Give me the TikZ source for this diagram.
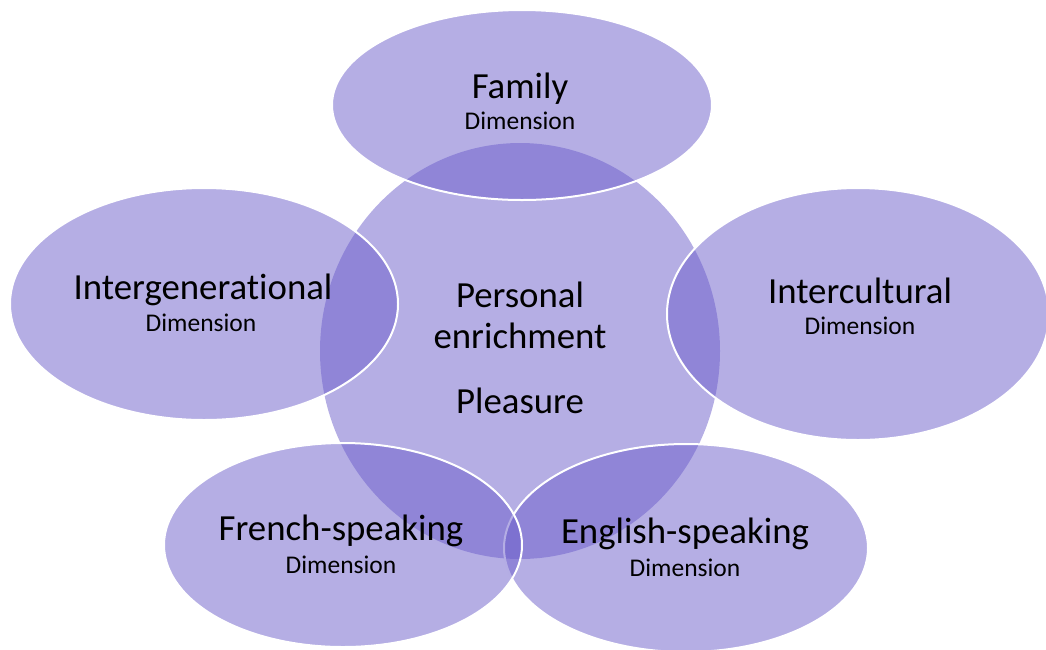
\documentclass[tikz,border=0pt]{standalone}
\usepackage{fontspec}
\setmainfont{Carlito}[Ligatures={NoCommon,NoDiscretionary,NoContextual}]
\definecolor{lav}{RGB}{107,93,202}
\begin{document}
\begin{tikzpicture}[x=1pt,y=-1pt,
  blob/.style={fill=lav,fill opacity=0.5,draw=white,line width=2pt},
  core/.style={fill=lav,fill opacity=0.5,draw=none},
  big/.style={anchor=base,font=\fontsize{36.8}{44}\selectfont,text=black,inner sep=0pt},
  small/.style={anchor=base,font=\fontsize{25.5}{30}\selectfont,text=black,inner sep=0pt}]
\useasboundingbox (0,0) rectangle (1046,649);
\path[core] (520,351) ellipse [x radius=200, y radius=208];
\path[blob] (522,105) ellipse [x radius=190, y radius=95];
\path[blob] (858,314) ellipse [x radius=191, y radius=126];
\path[blob] (686,548) ellipse [x radius=182, y radius=104];
\path[blob] (343,545) ellipse [x radius=179, y radius=102];
\path[blob] (204,304) ellipse [x radius=194, y radius=116];
% center
\node[big] (p1) at (520,307) {Personal};
\node[big] (p2) at (520,348) {enrichment};
\node[big] (p3) at (520,413) {Pleasure};
% family
\node[big] (f1) at (520,98) {Family};
\node[small] (f2) at (520,129) {Dimension};
% intergenerational
\node[big] (g1) at (203,299) {Intergenerational};
\node[small] (g2) at (201,331) {Dimension};
% intercultural
\node[big] (c1) at (860,303) {Intercultural};
\node[small] (c2) at (860,334) {Dimension};
% french
\node[big] (fr1) at (341,540) {French-speaking};
\node[small] (fr2) at (341,573) {Dimension};
% english
\node[big] (en1) at (685,543) {English-speaking};
\node[small] (en2) at (685,576) {Dimension};
\end{tikzpicture}
\end{document}
